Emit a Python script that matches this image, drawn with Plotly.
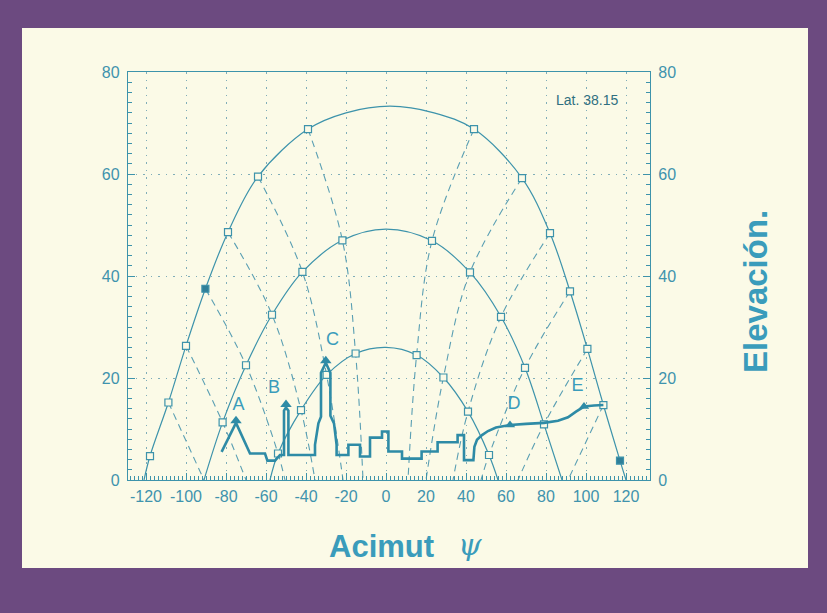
import plotly.graph_objects as go

# ---------------- data ----------------
# Sun-path arches (azimuth psi, elevation)
summer_az = [-121, -118, -108.8, -100, -90.3, -79, -64, -39, -20, 2, 24, 44, 68, 82, 92, 100.7, 108.7, 117, 120]
summer_el = [0, 4.7, 15.2, 26.3, 37.5, 48.6, 59.5, 68.8, 72.0, 73.3, 72.0, 68.8, 59.2, 48.4, 37, 25.7, 14.7, 3.8, 0]
equinox_az = [-91, -81.7, -70, -57, -41.8, -21.8, 0, 23, 42, 57.5, 69.5, 79, 88]
equinox_el = [0, 11.3, 22.5, 32.4, 40.8, 47, 49.2, 46.9, 40.7, 32, 22, 10.9, 0]
winter_az = [-58, -54, -42.5, -29.7, -15.2, 0, 15.3, 28.7, 41, 51.5, 56]
winter_el = [0, 5.2, 13.7, 20.6, 24.8, 26, 24.5, 20.1, 13.4, 4.9, 0]

# Hour markers (open squares) and the two filled ones
open_mk_az = [-118, -108.8, -100, -79, -64, -39, 44, 68, 82, 92, 100.7, 108.7,
              -81.7, -70, -57, -41.8, -21.8, 23, 42, 57.5, 69.5, 79,
              -54, -42.5, -29.7, -15.2, 15.3, 28.7, 41, 51.5]
open_mk_el = [4.7, 15.2, 26.3, 48.6, 59.5, 68.8, 68.8, 59.2, 48.4, 37, 25.7, 14.7,
              11.3, 22.5, 32.4, 40.8, 47, 46.9, 40.7, 32, 22, 10.9,
              5.2, 13.7, 20.6, 24.8, 24.5, 20.1, 13.4, 4.9]
filled_mk_az = [-90.3, 117]
filled_mk_el = [37.5, 3.8]

# Hour lines (dashed)
hour_lines = [
    ([-39, -21.8, -15.2, -11.5], [68.8, 47, 24.8, 0]),
    ([-64, -41.8, -29.7, -21.5], [59.5, 40.8, 20.6, 0]),
    ([-79, -57, -42.5, -35.5], [48.6, 32.4, 13.7, 0]),
    ([-90.3, -70, -54, -50.5], [37.5, 22.5, 5.2, 0]),
    ([-100, -81.7, -70], [26.3, 11.3, 0]),
    ([-108.8, -91], [15.2, 0]),
    ([44, 23, 15.3, 11], [68.8, 46.9, 24.5, 0]),
    ([68, 42, 28.7, 20], [59.2, 40.7, 20.1, 0]),
    ([82, 57.5, 41, 33.5], [48.4, 32, 13.4, 0]),
    ([92, 69.5, 51.5, 47.5], [37, 22, 4.9, 0]),
    ([100.7, 79, 66], [25.7, 10.9, 0]),
    ([108.7, 91], [14.7, 0]),
]

# Horizon / skyline profile
sky_az = [-82.2, -75, -68, -60.5, -59.3, -55.5, -53, -51, -51, -50, -48.8, -48.8,
          -35.5, -35.5, -33.8, -32.5, -32.5, -30.1, -27.8, -27.8, -26, -24.7, -24.7,
          -18.8, -18.8, -13, -13, -8, -8, -2, -2, 1.2, 1.2, 8, 8, 17.8, 17.8,
          25.8, 25.8, 35.8, 35.8, 39, 39, 43.7,
          44.2, 45.5, 48, 51, 55, 62, 70, 79, 86, 91, 95, 99, 104, 108.7]
sky_el = [5.5, 11.2, 5.2, 5.2, 3.8, 3.8, 4.9, 4.9, 13.6, 14.2, 13.6, 4.9,
          4.9, 6.9, 11.1, 12.4, 21, 23, 21, 12.6, 11.1, 6.9, 4.9,
          4.9, 6.9, 6.9, 4.6, 4.6, 8.3, 8.3, 9.5, 9.5, 5.6, 5.6, 4.2, 4.2, 5.6,
          5.6, 7.4, 7.4, 8.8, 8.8, 3.9, 3.9,
          6.5, 7.9, 8.8, 9.6, 10.3, 10.8, 11.0, 11.2, 11.6, 12.3, 13.4, 14.4, 14.6, 14.7]
arrow_az = [-75, -50, -30.1]
arrow_el = [11.6, 14.8, 23.4]
tri_az = [62, 99]
tri_el = [10.8, 14.4]

label_txt = ["A", "B", "C", "D", "E"]
label_az = [-73.8, -56, -26.7, 64, 95.7]
label_el = [14.6, 18, 27.4, 14.9, 18.4]

x_ticks = [-120, -100, -80, -60, -40, -20, 0, 20, 40, 60, 80, 100, 120]
x_tick_text = ["-120", "-100", "-80", "-60", "-40", "-20", "0", "20", "40", "60", "80", "100", "120"]
y_ticks = [0, 20, 40, 60, 80]

# ---------------- styling ----------------
PURPLE = "#6c4a80"
CREAM = "#fbfae7"
TEAL = "#3d93ab"
TEAL_TXT = "#3a9cbb"
FONT = "Liberation Sans, Arial, sans-serif"

fig = go.Figure()

for ax, el in [(summer_az, summer_el), (equinox_az, equinox_el), (winter_az, winter_el)]:
    fig.add_trace(go.Scatter(x=ax, y=el, mode="lines", line=dict(color=TEAL, width=1.2, shape="spline"),
                             hoverinfo="skip", showlegend=False))

for hx, hy in hour_lines:
    fig.add_trace(go.Scatter(x=hx, y=hy, mode="lines",
                             line=dict(color="#5a9fb3", width=1.1, dash="7px,5px", shape="spline"),
                             hoverinfo="skip", showlegend=False))

fig.add_trace(go.Scatter(x=open_mk_az, y=open_mk_el, mode="markers",
                         marker=dict(symbol="square", size=7, color=CREAM, line=dict(color=TEAL, width=1.2)),
                         showlegend=False))
fig.add_trace(go.Scatter(x=filled_mk_az, y=filled_mk_el, mode="markers",
                         marker=dict(symbol="square", size=7, color="#2f7f98", line=dict(color=TEAL, width=1.2)),
                         showlegend=False))

fig.add_trace(go.Scatter(x=sky_az, y=sky_el, mode="lines", line=dict(color="#2e8ba6", width=2.6),
                         showlegend=False))
fig.add_trace(go.Scatter(x=arrow_az, y=arrow_el, mode="markers",
                         marker=dict(symbol="triangle-up", size=10, color="#2e8ba6"), showlegend=False))
fig.add_trace(go.Scatter(x=tri_az, y=tri_el, mode="markers",
                         marker=dict(symbol="triangle-up", size=9, color="#2e8ba6"), showlegend=False))
fig.add_trace(go.Scatter(x=label_az, y=label_el, mode="text", text=label_txt,
                         textfont=dict(family=FONT, size=18, color=TEAL_TXT), showlegend=False))

# right axis carrier (invisible)
fig.add_trace(go.Scatter(x=[0], y=[0], yaxis="y2", mode="markers", marker=dict(opacity=0), showlegend=False))

L, R, T, B = 128, 177, 72, 133
W, H = 827, 613
pw, ph = W - L - R, H - T - B


def px2paper(px, py):
    return (px - L) / pw, (H - B - py) / ph


x0, y0 = px2paper(22, 568)
x1, y1 = px2paper(808, 28)
fig.add_shape(type="rect", xref="paper", yref="paper", x0=x0, y0=y0, x1=x1, y1=y1,
              fillcolor=CREAM, line=dict(width=0), layer="below")

axis_common = dict(showline=True, linecolor=TEAL, linewidth=1.3, ticks="inside", tickcolor=TEAL,
                   tickwidth=1, ticklen=7, tickfont=dict(family=FONT, size=16, color="#3f93ad"),
                   zeroline=False)

fig.update_layout(
    width=W, height=H,
    margin=dict(l=L, r=R, t=T, b=B),
    paper_bgcolor=PURPLE,
    plot_bgcolor="rgba(0,0,0,0)",
    xaxis=dict(range=[-129, 132], tickvals=x_ticks, ticktext=x_tick_text, mirror=True, showgrid=True,
               gridcolor="#80adb8", griddash="1.5px,6px", gridwidth=1.3,
               minor=dict(ticks="inside", dtick=2, tick0=0, ticklen=3.5, tickcolor=TEAL, showgrid=False),
               ticklabelstandoff=2, **axis_common),
    yaxis=dict(range=[0, 80], tickvals=y_ticks, showgrid=True, mirror=True,
               gridcolor="#80adb8", griddash="1.5px,6px", gridwidth=1.3,
               minor=dict(ticks="inside", dtick=2, tick0=0, ticklen=3.5, tickcolor=TEAL, showgrid=False),
               ticklabelstandoff=4, **axis_common),
    yaxis2=dict(range=[0, 80], tickvals=y_ticks, overlaying="y", side="right", showgrid=False,
                minor=dict(ticks="inside", dtick=2, tick0=0, ticklen=3.5, tickcolor=TEAL, showgrid=False),
                ticklabelstandoff=4, **axis_common),
    showlegend=False,
)

ax_, ay_ = px2paper(381, 546)
fig.add_annotation(xref="paper", yref="paper", x=ax_, y=ay_, text="<b>Acimut</b>", showarrow=False,
                   font=dict(family=FONT, size=31, color=TEAL_TXT), xanchor="center", yanchor="middle")
psx, psy = px2paper(470, 544)
fig.add_annotation(xref="paper", yref="paper", x=psx, y=psy, text="<i>ψ</i>", showarrow=False,
                   font=dict(family="DejaVu Serif, serif", size=30, color=TEAL_TXT), xanchor="center", yanchor="middle")
ex, ey = px2paper(755, 292)
fig.add_annotation(xref="paper", yref="paper", x=ex, y=ey, text="<b>Elevación.</b>", showarrow=False,
                   textangle=-90, font=dict(family=FONT, size=33, color=TEAL_TXT), xanchor="center", yanchor="middle")
fig.add_annotation(x=100.5, y=74.6, text="Lat. 38.15", showarrow=False,
                   font=dict(family=FONT, size=14, color="#2f6f80"))

fig.write_html("out.html")
